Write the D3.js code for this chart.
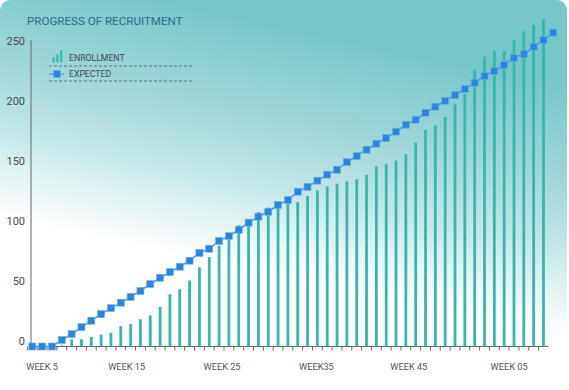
<!DOCTYPE html>
<html>
<head>
<meta charset="utf-8">
<script src="https://cdn.jsdelivr.net/npm/d3@7"></script>
<style>
html,body{margin:0;padding:0;background:#fff;}
svg{display:block;}
</style>
</head>
<body>
<svg id="chart" width="569" height="390"></svg>
<script>
// ---------- data ----------
const title = "PROGRESS OF RECRUITMENT";
const categories = d3.range(4, 58).map(w => "W" + w); // 54 weekly slots
const enrollment = [null, null, null, 1, 6, 6, 8, 10, 11.5, 17, 18.7, 22.7, 26, 33,
  43.5, 47.7, 55, 66, 74.5, 84, 89, 101, 106, 112, 115.7, 118, 119.3, 120.4,
  125.4, 130, 133.5, 135.7, 137.5, 139.3, 143, 150, 152.3, 155, 160.4, 170,
  180.7, 184.3, 191.3, 202.3, 210.4, 230.7, 241.5, 246.3, 246.3, 255.4, 262.7,
  268, 272.7, null];
const expected = [0, 0, 0, 5.4, 10.4, 16.2, 21.5, 27, 32, 36.5, 41.4, 46.3, 52,
  57.3, 62, 66.5, 71.5, 78, 81.5, 88, 92, 97.3, 103.2, 108.2, 112.3, 118, 122,
  129, 133, 138.2, 143.2, 147.3, 153.7, 158.7, 164, 169, 173.7, 179, 184.8, 189,
  194.8, 199.8, 204.8, 209.6, 214.6, 219.8, 225.4, 229.6, 234.6, 240.4, 243.7,
  249.8, 255.4, 261.5];
const yTicks = [0, 50, 100, 150, 200, 250];
const xTickLabels = ["WEEK 5", "WEEK 15", "WEEK 25", "WEEK35", "WEEK 45", "WEEK 05"];
const xTickAt = [1, 9.6, 19.3, 28.9, 38.3, 48.5]; // category-index positions
const legendLabels = ["ENROLLMENT", "EXPECTED"];

// ---------- drawing ----------
const svg = d3.select("#chart");
const defs = svg.append("defs");
const grad = defs.append("linearGradient").attr("id", "bg")
  .attr("x1", 0.3).attr("y1", 0).attr("x2", 0).attr("y2", 1);
[[0, "#76c7c8"], [0.22, "#9fd7d8"], [0.38, "#c4e7e8"], [0.5, "#e9f6f6"], [0.58, "#ffffff"], [1, "#ffffff"]]
  .forEach(([o, c]) => grad.append("stop").attr("offset", o).attr("stop-color", c));

svg.append("rect").attr("x", 0).attr("y", 0).attr("width", 567).attr("height", 400)
  .attr("rx", 10).attr("fill", "url(#bg)");

const font = "Roboto, 'Open Sans', sans-serif";

svg.append("text").attr("x", 27).attr("y", 24.5).text(title)
  .attr("font-family", font).attr("font-size", 11.6).attr("fill", "#2d6b8c");

const x = d3.scaleBand().domain(categories).range([27.4, 27.4 + 54 * 9.83]).padding(0);
const y = d3.scaleLinear().domain([0, 250]).range([346.5, 46.5]);
const cx = i => x(categories[i]) + x.bandwidth() / 2;
const step = x.step();

// y axis line
svg.append("line").attr("x1", 31).attr("x2", 31).attr("y1", 40).attr("y2", 346.5)
  .attr("stroke", "#666").attr("stroke-width", 1);
// y labels
svg.append("g").selectAll("text").data(yTicks).join("text")
  .attr("x", 25).attr("y", d => y(d) - 5.8).attr("dy", "0.35em")
  .attr("text-anchor", "end").attr("font-family", font).attr("font-size", 11)
  .attr("fill", "#4a4a4a").text(d => d);

// x axis line + ticks
const xAxisEnd = x(categories[52]) + step;
svg.append("line").attr("x1", 31).attr("x2", xAxisEnd).attr("y1", 346.5).attr("y2", 346.5)
  .attr("stroke", "#666").attr("stroke-width", 1);
svg.append("g").selectAll("line").data(categories.slice(0, 53)).join("line")
  .attr("x1", d => x(d)).attr("x2", d => x(d))
  .attr("y1", 346.5).attr("y2", 350.5).attr("stroke", "#666").attr("stroke-width", 1);

// x labels
svg.append("g").selectAll("text").data(xTickLabels).join("text")
  .attr("x", (d, i) => x(categories[0]) + step / 2 + xTickAt[i] * step)
  .attr("y", 369.5).attr("text-anchor", "middle")
  .attr("font-family", font).attr("font-size", 9.2).attr("fill", "#555").text(d => d);

// bars
svg.append("g").selectAll("rect")
  .data(enrollment.map((v, i) => ({ v, i })).filter(d => d.v != null)).join("rect")
  .attr("x", d => cx(d.i) - 1.4).attr("width", 2.8)
  .attr("y", d => y(d.v)).attr("height", d => y(0) - y(d.v))
  .attr("fill", "#38b6ae");

// expected line
const line = d3.line().x((d, i) => cx(i)).y(d => y(d));
svg.append("path").datum(expected).attr("d", line)
  .attr("fill", "none").attr("stroke", "#4a9be6").attr("stroke-width", 1.6);
svg.append("g").selectAll("rect").data(expected).join("rect")
  .attr("x", (d, i) => cx(i) - 3.5).attr("y", d => y(d) - 3.5)
  .attr("width", 7).attr("height", 7)
  .attr("fill", "#2a86dd").attr("stroke", "#6fb0ee").attr("stroke-width", 0.6);

// legend
const lg = svg.append("g");
[[0, 5], [1, 8], [2, 12]].forEach(([k, h]) => {
  lg.append("rect").attr("x", 52.5 + k * 3.8).attr("y", 62.3 - h).attr("width", 2.2)
    .attr("height", h).attr("fill", "#38b6ae");
});
lg.append("line").attr("x1", 49).attr("x2", 64).attr("y1", 74).attr("y2", 74)
  .attr("stroke", "#4a9be6").attr("stroke-width", 1.4);
lg.append("rect").attr("x", 53.5).attr("y", 70.5).attr("width", 7).attr("height", 7)
  .attr("fill", "#2a86dd").attr("stroke", "#6fb0ee").attr("stroke-width", 0.6);
lg.selectAll("text.lab").data(legendLabels).join("text").attr("class", "lab")
  .attr("x", 69).attr("y", (d, i) => 58 + i * 16).attr("dy", "0.35em")
  .attr("font-family", font).attr("font-size", 8.7).attr("fill", "#3b4a52").text(d => d);
[66, 81].forEach(yy => {
  lg.append("line").attr("x1", 49).attr("x2", 192).attr("y1", yy).attr("y2", yy)
    .attr("stroke", "#556").attr("stroke-width", 0.8).attr("stroke-dasharray", "3,2");
});
</script>
</body>
</html>
